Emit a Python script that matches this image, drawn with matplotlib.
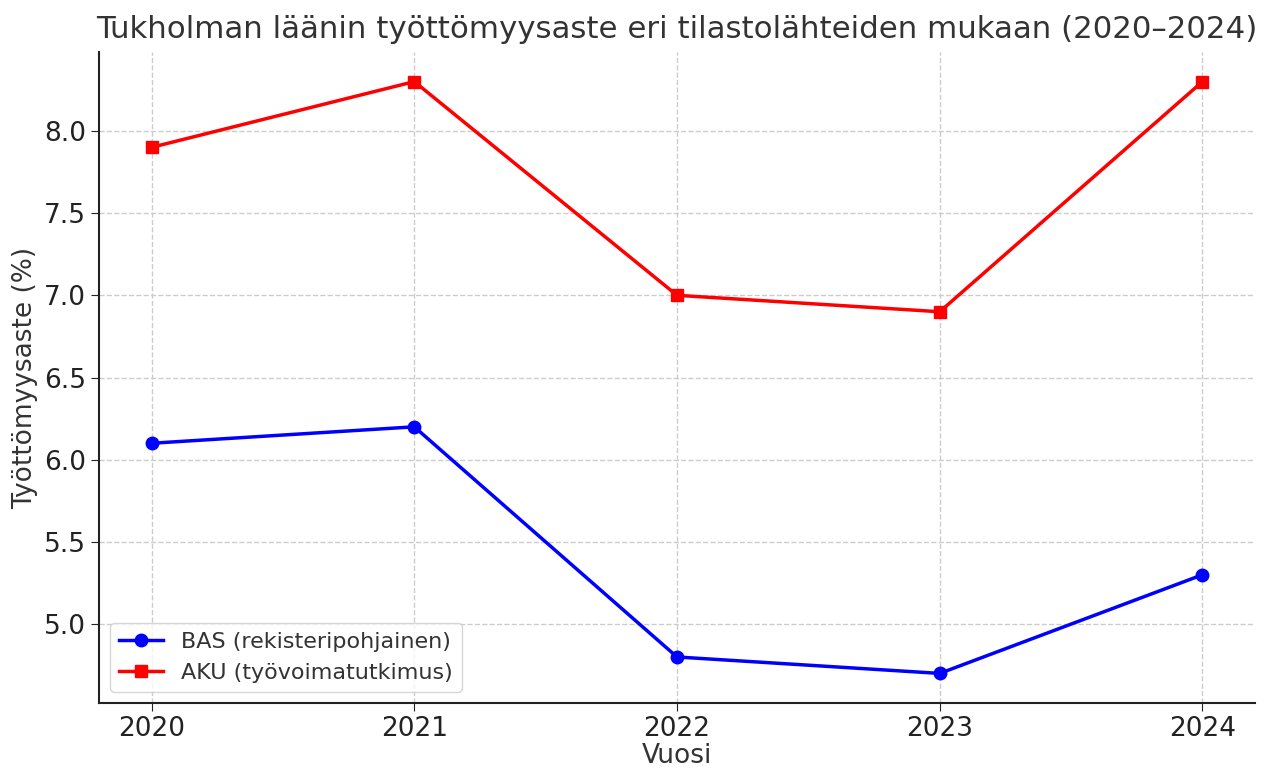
import matplotlib
matplotlib.use("Agg")
import matplotlib.pyplot as plt

years = [2020, 2021, 2022, 2023, 2024]
bas = [6.1, 6.2, 4.8, 4.7, 5.3]
aku = [7.9, 8.3, 7.0, 6.9, 8.3]

plt.rcParams['font.family'] = ['DejaVu Sans']
fig = plt.figure(figsize=(12.66, 7.69), dpi=100)
ax = fig.add_axes([99/1266, 1-703/769, (1255-99)/1266, (703-52)/769])

ax.plot(years, bas, color='blue', marker='o', markersize=9, linewidth=2.5, label='BAS (rekisteripohjainen)')
ax.plot(years, aku, color='red', marker='s', markersize=9, linewidth=2.5, label='AKU (työvoimatutkimus)')

ax.set_xticks(years)
ax.set_xticklabels([str(y) for y in years])
ax.set_yticks([5.0, 5.5, 6.0, 6.5, 7.0, 7.5, 8.0])
ax.tick_params(axis='both', labelsize=19, colors='#222222', length=6)
ax.tick_params(axis='x', pad=3)
ax.grid(True, linestyle='--', color='#cccccc', linewidth=1)
for s in ['top', 'right']:
    ax.spines[s].set_visible(False)
for s in ['left', 'bottom']:
    ax.spines[s].set_linewidth(1.5)
    ax.spines[s].set_color('#222222')

ax.set_title('Tukholman läänin työttömyysaste eri tilastolähteiden mukaan (2020–2024)', fontsize=22.2, color='#333333', pad=10)
ax.set_xlabel('Vuosi', fontsize=19, color='#333333', labelpad=1)
ax.set_ylabel('Työttömyysaste (%)', fontsize=19, color='#333333')
ax.legend(loc='lower left', fontsize=16, frameon=True, edgecolor='#cccccc', labelcolor='#333333')

fig.savefig('out.png', dpi=100)
